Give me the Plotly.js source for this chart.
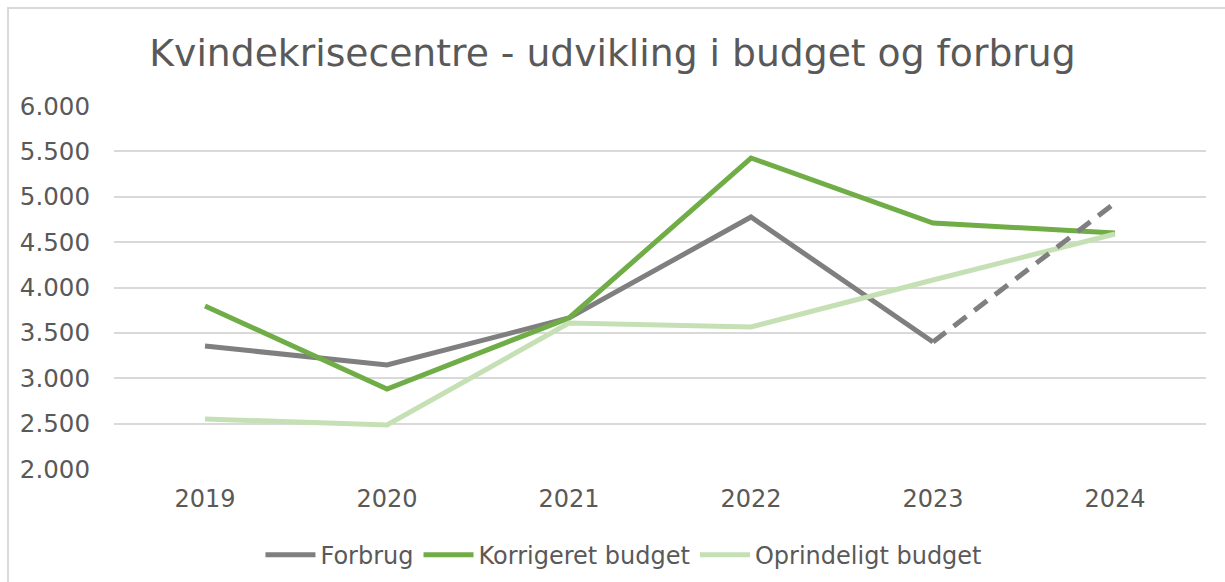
<!DOCTYPE html>
<html>
<head>
<meta charset="utf-8">
<script src="https://cdn.plot.ly/plotly-3.0.1.min.js"></script>
<style>
  body { margin: 0; background: #fff; }
  #frame { position: absolute; left: 7px; top: 7px; width: 1218px; height: 575px;
           border-top: 2px solid #d9d9d9; border-left: 2px solid #d9d9d9; }
  #plotArea { position: absolute; left: 0; top: 0; width: 1225px; height: 582px; }
</style>
</head>
<body>
<div id="frame"></div>
<div id="plotArea"></div>
<script>
// data (mio. kr.)
var years = ["2019", "2020", "2021", "2022", "2023", "2024"];
var forbrug = [3355, 3146, 3664, 4777, 3399, 4931];
var korrigeret = [3796, 2881, 3664, 5427, 4711, 4600];
var oprindeligt = [2551, 2485, 3609, 3565, 4083, 4590];

// 2024 forbrug is an estimate -> dashed part
var forbrugSolid = forbrug.map((v, i) => i <= 4 ? v : null);
var forbrugDash = forbrug.map((v, i) => i >= 4 ? v : null);

var gray = "#7f7f7f";

var trace1 = {
    x: years, y: forbrugSolid, name: "Forbrug",
    type: "scatter", mode: "lines",
    line: {color: gray, width: 5}
};
var trace1b = {
    x: years, y: forbrugDash, name: "Forbrug (skøn)",
    type: "scatter", mode: "lines", showlegend: false,
    line: {color: gray, width: 5, dash: "16px,10px"}
};
var trace2 = {
    x: years, y: korrigeret, name: "Korrigeret budget",
    type: "scatter", mode: "lines",
    line: {color: "#70ad47", width: 5}
};
var trace3 = {
    x: years, y: oprindeligt, name: "Oprindeligt budget",
    type: "scatter", mode: "lines",
    line: {color: "#c5e0b4", width: 5}
};

var data = [trace1, trace2, trace3, trace1b];

var layout = {
    width: 1225, height: 582,
    paper_bgcolor: "rgba(0,0,0,0)", plot_bgcolor: "rgba(0,0,0,0)",
    separators: ",.",
    font: {family: "DejaVu Sans", color: "#595959"},
    margin: {l: 114, r: 19, t: 106, b: 113, autoexpand: false},
    title: {
        text: "Kvindekrisecentre - udvikling i budget og forbrug",
        font: {family: "DejaVu Sans", size: 37.7, color: "#595959"},
        x: 0.5, xanchor: "center", y: 0.91, yanchor: "middle"
    },
    xaxis: {
        type: "category", range: [-0.5, 5.5],
        showgrid: false, zeroline: false, showline: false,
        ticks: "", tickfont: {size: 24, color: "#595959"}, ticklabelstandoff: 13
    },
    yaxis: {
        range: [2000, 6000], dtick: 500, tickformat: ",d",
        showgrid: true, gridcolor: "#d9d9d9", gridwidth: 2,
        zeroline: false, showline: false, ticks: "",
        tickfont: {size: 24.5, color: "#595959"}, ticklabelstandoff: 23
    },
    showlegend: true,
    legend: {
        orientation: "h", x: 0.467, xanchor: "center",
        yref: "container", y: 0.046, yanchor: "middle",
        font: {family: "DejaVu Sans", size: 24, color: "#595959"},
        traceorder: "normal", itemwidth: 50
    }
};

Plotly.newPlot("plotArea", data, layout, {staticPlot: true});
</script>
</body>
</html>
